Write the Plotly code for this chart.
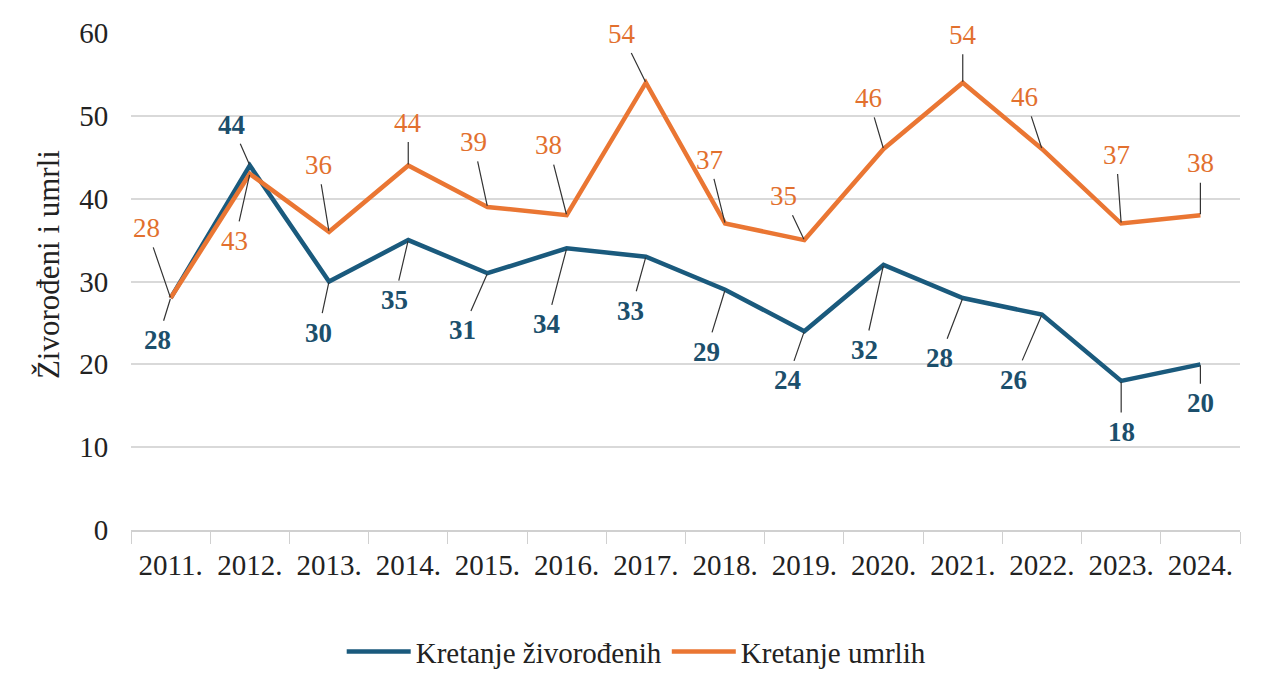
import plotly.graph_objects as go

years = ["2011.", "2012.", "2013.", "2014.", "2015.", "2016.", "2017.",
         "2018.", "2019.", "2020.", "2021.", "2022.", "2023.", "2024."]
births = [28, 44, 30, 35, 31, 34, 33, 29, 24, 32, 28, 26, 18, 20]
deaths = [28, 43, 36, 44, 39, 38, 54, 37, 35, 46, 54, 46, 37, 38]

# label offsets (pixels) for the leader-line data labels
births_ax = [-13, -18, -11, -14, -25, -20, -15, -19, -17, -19, -23, -28, 0, 0]
births_ay = [42, -41, 51, 60, 57, 76, 54, 62, 49, 85, 60, 65, 51, 39]
deaths_ax = [-24, -15, -11, 0, -14, -18, -24, -16, -21, -15, 0, -17, -5, 0]
deaths_ay = [-70, 67, -67, -43, -65, -70, -49, -64, -44, -51, -48, -52, -69, -52]

BLUE = "#1A5A7D"
ORANGE = "#EA7633"
BLUE_TXT = "#1C4F6C"
ORANGE_TXT = "#E2702E"
FONT = "Liberation Serif"

fig = go.Figure()
fig.add_trace(go.Scatter(x=years, y=births, mode="lines", name="Kretanje živorođenih",
                         line=dict(color=BLUE, width=4.5)))
fig.add_trace(go.Scatter(x=years, y=deaths, mode="lines", name="Kretanje umrlih",
                         line=dict(color=ORANGE, width=4.5)))

annotations = []
for i, (v, ax, ay) in enumerate(zip(births, births_ax, births_ay)):
    annotations.append(dict(x=i, y=v, text=f"<b>{v}</b>", showarrow=True, arrowhead=0,
                            arrowwidth=1.2, arrowcolor="#333333", ax=ax, ay=ay,
                            standoff=1, startstandoff=3,
                            font=dict(family=FONT, size=27, color=BLUE_TXT)))
for i, (v, ax, ay) in enumerate(zip(deaths, deaths_ax, deaths_ay)):
    annotations.append(dict(x=i, y=v, text=f"{v}", showarrow=True, arrowhead=0,
                            arrowwidth=1.2, arrowcolor="#333333", ax=ax, ay=ay,
                            standoff=1, startstandoff=3,
                            font=dict(family=FONT, size=27, color=ORANGE_TXT)))

# y-axis title (placed as annotation to match the reference's vertical offset)
annotations.append(dict(text="Živorođeni i umrli", xref="paper", yref="paper",
                        x=0, y=0.533, xshift=-83, xanchor="center", yanchor="middle",
                        textangle=-90, showarrow=False,
                        font=dict(family=FONT, size=31, color="#222222")))

fig.update_layout(
    width=1265, height=667,
    margin=dict(l=123, r=33, t=25, b=145, autoexpand=False),
    paper_bgcolor="white", plot_bgcolor="white",
    font=dict(family=FONT, size=28, color="#222222"),
    showlegend=True,
    legend=dict(orientation="h", x=0.497, xanchor="center", xref="container",
                y=0.035, yanchor="middle", yref="container",
                font=dict(family=FONT, size=29, color="#222222"), itemwidth=64),
    annotations=annotations,
)
fig.update_xaxes(type="category", range=[-0.5, len(years) - 0.5], showgrid=False,
                 automargin=False,
                 showline=True, linecolor="#D0D0D0",
                 linewidth=2, ticks="outside", tickson="boundaries", ticklen=12,
                 tickcolor="#D0D0D0", tickangle=0, ticklabelstandoff=8,
                 tickfont=dict(family=FONT, size=29, color="#222222"))
fig.update_yaxes(range=[0, 60], dtick=10, showgrid=True, gridcolor="#D9D9D9", gridwidth=1.5,
                 automargin=False,
                 zeroline=False, ticks="outside", ticklen=16, tickcolor="rgba(0,0,0,0)",
                 tickfont=dict(family=FONT, size=29, color="#222222"))

fig.write_html("out.html")
